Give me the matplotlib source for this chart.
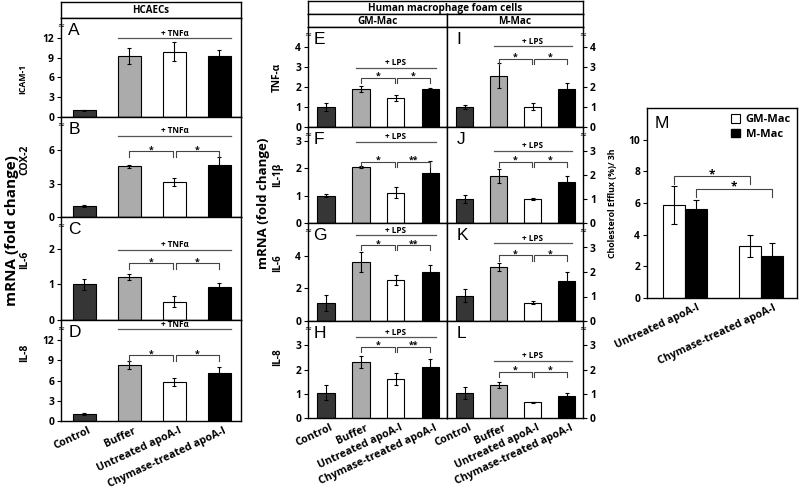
import matplotlib
matplotlib.use("Agg")
import matplotlib.pyplot as plt
import matplotlib.transforms as mtransforms
from matplotlib.patches import Patch

plt.rcParams["font.family"] = ["Open Sans", "DejaVu Sans"]
plt.rcParams["font.weight"] = "bold"
plt.rcParams["axes.labelweight"] = "bold"
plt.rcParams["axes.linewidth"] = 1.0

W, H = 800, 491

# ----- data -----------------------------------------------------------------
CONDITIONS = ["Control", "Buffer", "Untreated apoA-I", "Chymase-treated apoA-I"]
BAR_COLORS = ["#363636", "#ababab", "white", "black"]

# HCAECs (+ TNFa)
ICAM1 = [1.0, 9.3, 9.9, 9.3]
ICAM1_ERR = [0.1, 1.2, 1.4, 0.9]
COX2 = [1.0, 4.55, 3.15, 4.65]
COX2_ERR = [0.12, 0.12, 0.4, 0.75]
HC_IL6 = [1.0, 1.22, 0.52, 0.92]
HC_IL6_ERR = [0.15, 0.08, 0.16, 0.13]
HC_IL8 = [1.0, 8.3, 5.8, 7.2]
HC_IL8_ERR = [0.12, 0.55, 0.6, 0.8]

# GM-Mac foam cells (+ LPS)
GM_TNFA = [1.0, 1.92, 1.45, 1.88]
GM_TNFA_ERR = [0.22, 0.15, 0.17, 0.07]
GM_IL1B = [1.0, 2.03, 1.1, 1.83]
GM_IL1B_ERR = [0.04, 0.03, 0.2, 0.42]
GM_IL6 = [1.1, 3.6, 2.5, 3.0]
GM_IL6_ERR = [0.5, 0.6, 0.3, 0.45]
GM_IL8 = [1.05, 2.3, 1.62, 2.12]
GM_IL8_ERR = [0.3, 0.25, 0.25, 0.3]

# M-Mac foam cells (+ LPS)
M_TNFA = [1.0, 2.57, 1.02, 1.88]
M_TNFA_ERR = [0.12, 0.62, 0.18, 0.3]
M_IL1B = [1.0, 1.95, 1.0, 1.72]
M_IL1B_ERR = [0.15, 0.3, 0.03, 0.25]
M_IL6 = [1.03, 2.2, 0.75, 1.63]
M_IL6_ERR = [0.27, 0.17, 0.05, 0.38]
M_IL8 = [1.02, 1.35, 0.65, 0.92]
M_IL8_ERR = [0.25, 0.13, 0.03, 0.12]

# Cholesterol efflux
EFFLUX_GROUPS = ["Untreated apoA-I", "Chymase-treated apoA-I"]
EFFLUX_GM = [5.9, 3.3]
EFFLUX_GM_ERR = [1.2, 0.7]
EFFLUX_M = [5.6, 2.65]
EFFLUX_M_ERR = [0.6, 0.8]


fig = plt.figure(figsize=(W / 100, H / 100), dpi=100)


def px_axes(x0, y0, x1, y1):
    return fig.add_axes([x0 / W, 1 - y1 / H, (x1 - x0) / W, (y1 - y0) / H])


def header(x0, y0, x1, y1, text, size=7):
    ax = px_axes(x0, y0, x1, y1)
    ax.set_xticks([])
    ax.set_yticks([])
    ax.text(0.5, 0.45, text, ha="center", va="center", fontsize=size,
            transform=ax.transAxes)


def panel(rect, mean, err, ymax, yticks, letter, treat, treat_y,
          bracket_y=None, stars=("*", "*"), ylabel=None, ylabel_size=7.5,
          ylabel_pos=(-0.17, 0.5), side="left", xlabels=False, letter_x=0.04):
    ax = px_axes(*rect)
    x = range(len(mean))
    ax.bar(x, mean, width=0.5, color=BAR_COLORS, edgecolor="black", lw=0.8)
    ax.errorbar(x, mean, yerr=err, fmt="none", ecolor="black", elinewidth=0.8,
                capsize=1.6, capthick=0.8)
    ax.set_xlim(-0.52, 3.48)
    ax.set_ylim(0, ymax)
    ax.set_yticks(yticks)
    ax.tick_params(axis="y", direction="out", length=3, width=0.8,
                   labelsize=7.4, pad=2)
    if side == "right":
        ax.yaxis.tick_right()
    if xlabels:
        ax.set_xticks(list(x))
        ax.set_xticklabels(CONDITIONS, rotation=25, ha="right",
                           rotation_mode="anchor", fontsize=7.7)
        ax.tick_params(axis="x", length=0, pad=3)
        off = mtransforms.ScaledTranslation(4 / 100, 0, fig.dpi_scale_trans)
        for lab in ax.get_xticklabels():
            lab.set_transform(lab.get_transform() + off)
    else:
        ax.set_xticks([])
    if ylabel:
        ax.set_ylabel(ylabel, fontsize=ylabel_size)
        ax.yaxis.set_label_coords(*ylabel_pos)
    ax.text(letter_x, 0.95, letter, transform=ax.transAxes, fontsize=12.5,
            fontweight="normal", ha="left", va="top",
            family=["Liberation Sans", "DejaVu Sans"])
    bx = 0.0 if side == "left" else 1.0
    ax.text(bx, 0.93, "≈", transform=ax.transAxes, fontsize=6,
            ha="center", va="center", fontweight="normal",
            family=["DejaVu Sans"])

    # treatment line
    span = (0.75, 3.25) if "TNF" in treat else (0.85, 3.15)
    ax.plot(span, [treat_y, treat_y], color="#555555", lw=0.9)
    ax.annotate(treat, (2.0, treat_y), xytext=(0, 0.5), textcoords="offset points",
                ha="center", va="bottom", fontsize=5.9)

    if bracket_y is not None:
        drop = 0.055 * ymax
        for (a, b), s in zip([(1.0, 1.97), (2.03, 3.0)], stars):
            ax.plot([a, a, b, b], [bracket_y - drop, bracket_y, bracket_y,
                                   bracket_y - drop], color="#444444", lw=0.8)
            ax.annotate(s, ((a + b) / 2, bracket_y), xytext=(0, -1.0),
                        textcoords="offset points", ha="center", va="baseline",
                        fontsize=6.3)
    return ax


# ----- HCAECs ---------------------------------------------------------------
header(61, 2, 241, 18, "HCAECs")
panel((61, 18, 241, 117), ICAM1, ICAM1_ERR, 15, [0, 3, 6, 9, 12], "A",
      "+ TNFα", 11.9, ylabel="ICAM-1", ylabel_size=6.2, ylabel_pos=(-0.19, 0.38))
panel((61, 117, 241, 217), COX2, COX2_ERR, 9, [0, 3, 6], "B",
      "+ TNFα", 7.3, 5.9, ylabel="COX-2", ylabel_pos=(-0.17, 0.57))
panel((61, 217, 241, 320), HC_IL6, HC_IL6_ERR, 2.9, [0, 1, 2], "C",
      "+ TNFα", 1.98, 1.6, ylabel="IL-6", ylabel_pos=(-0.17, 0.58))
panel((61, 320, 241, 421), HC_IL8, HC_IL8_ERR, 15, [0, 3, 6, 9, 12], "D",
      "+ TNFα", 13.6, 9.8, ylabel="IL-8", ylabel_pos=(-0.17, 0.68), xlabels=True)

# ----- Macrophage foam cells ------------------------------------------------
header(308, 1, 583, 14, "Human macrophage foam cells", size=7.2)
header(308, 14, 447, 27, "GM-Mac", size=7.2)
header(447, 14, 583, 27, "M-Mac", size=7.2)

rows = [(27, 127), (127, 223), (223, 321), (321, 418)]

panel((308, rows[0][0], 447, rows[0][1]), GM_TNFA, GM_TNFA_ERR, 5, [0, 1, 2, 3, 4],
      "E", "+ LPS", 2.95, 2.47, ylabel="TNF-α", ylabel_size=7.2,
      ylabel_pos=(-0.18, 0.5))
panel((308, rows[1][0], 447, rows[1][1]), GM_IL1B, GM_IL1B_ERR, 3.5, [0, 1, 2, 3],
      "F", "+ LPS", 2.97, 2.24, stars=("*", "**"), ylabel="IL-1β",
      ylabel_size=7.2, ylabel_pos=(-0.18, 0.5))
panel((308, rows[2][0], 447, rows[2][1]), GM_IL6, GM_IL6_ERR, 6, [0, 2, 4],
      "G", "+ LPS", 5.25, 4.67, stars=("*", "**"), ylabel="IL-6",
      ylabel_size=7.2, ylabel_pos=(-0.18, 0.59))
panel((308, rows[3][0], 447, rows[3][1]), GM_IL8, GM_IL8_ERR, 4, [0, 1, 2, 3],
      "H", "+ LPS", 3.32, 2.94, stars=("*", "**"), ylabel="IL-8",
      ylabel_size=7.2, ylabel_pos=(-0.18, 0.63), xlabels=True)

panel((447, rows[0][0], 583, rows[0][1]), M_TNFA, M_TNFA_ERR, 5, [0, 1, 2, 3, 4],
      "I", "+ LPS", 4.04, 3.42, side="right", letter_x=0.07)
panel((447, rows[1][0], 583, rows[1][1]), M_IL1B, M_IL1B_ERR, 4, [0, 1, 2, 3],
      "J", "+ LPS", 3.0, 2.56, side="right", letter_x=0.07)
panel((447, rows[2][0], 583, rows[2][1]), M_IL6, M_IL6_ERR, 4, [0, 1, 2, 3],
      "K", "+ LPS", 3.17, 2.68, side="right", letter_x=0.07)
panel((447, rows[3][0], 583, rows[3][1]), M_IL8, M_IL8_ERR, 4, [0, 1, 2, 3],
      "L", "+ LPS", 2.36, 1.91, side="right", xlabels=True, letter_x=0.07)

fig.text(12 / W, 1 - 231 / H, "mRNA (fold change)", rotation=90, fontsize=11,
         ha="center", va="center")
fig.text(264 / W, 1 - 203 / H, "mRNA (fold change)", rotation=90, fontsize=9.5,
         ha="center", va="center")

# ----- Cholesterol efflux (M) -----------------------------------------------
axm = px_axes(647, 108, 797, 298)
gx = [0, 1]
bw = 0.29
axm.bar([g - bw / 2 for g in gx], EFFLUX_GM, width=bw, color="white",
        edgecolor="black", lw=0.8)
axm.bar([g + bw / 2 for g in gx], EFFLUX_M, width=bw, color="black",
        edgecolor="black", lw=0.8)
axm.errorbar([g - bw / 2 for g in gx], EFFLUX_GM, yerr=EFFLUX_GM_ERR, fmt="none",
             ecolor="black", elinewidth=0.8, capsize=2, capthick=0.8)
axm.errorbar([g + bw / 2 for g in gx], EFFLUX_M, yerr=EFFLUX_M_ERR, fmt="none",
             ecolor="black", elinewidth=0.8, capsize=2, capthick=0.8)
axm.set_xlim(-0.5, 1.47)
axm.set_ylim(0, 12)
axm.set_yticks([0, 2, 4, 6, 8, 10])
axm.tick_params(axis="y", direction="out", length=3, width=0.8, labelsize=7.4, pad=2)
axm.set_xticks(gx)
axm.set_xticklabels(EFFLUX_GROUPS, rotation=25, ha="right",
                    rotation_mode="anchor", fontsize=7.7)
axm.tick_params(axis="x", length=0, pad=3)
offm = mtransforms.ScaledTranslation(12 / 100, 0, fig.dpi_scale_trans)
for lab in axm.get_xticklabels():
    lab.set_transform(lab.get_transform() + offm)
axm.set_ylabel("Cholesterol Efflux (%)/ 3h", fontsize=6.3)
axm.yaxis.set_label_coords(-0.2, 0.5)
axm.text(0.05, 0.96, "M", transform=axm.transAxes, fontsize=12.5,
         fontweight="normal", ha="left", va="top",
         family=["Liberation Sans", "DejaVu Sans"])
for (a, b, y, s) in [(-bw / 2, 1 - bw / 2, 7.7, "*"), (bw / 2, 1 + bw / 2, 6.9, "*")]:
    axm.plot([a, a, b, b], [y - 0.5, y, y, y - 0.5], color="#444444", lw=0.8)
    axm.annotate(s, ((a + b) / 2, y), xytext=(0, -1.5), textcoords="offset points",
                 ha="center", va="baseline", fontsize=8.5)
axm.legend(handles=[Patch(facecolor="white", edgecolor="black", lw=0.8),
                    Patch(facecolor="black", edgecolor="black")],
           labels=["GM-Mac", "M-Mac"], loc="upper right", frameon=False,
           fontsize=8, handlelength=0.8, handleheight=0.8, handletextpad=0.5,
           borderaxespad=0.15, labelspacing=0.3)

fig.savefig("out.png", dpi=100)
